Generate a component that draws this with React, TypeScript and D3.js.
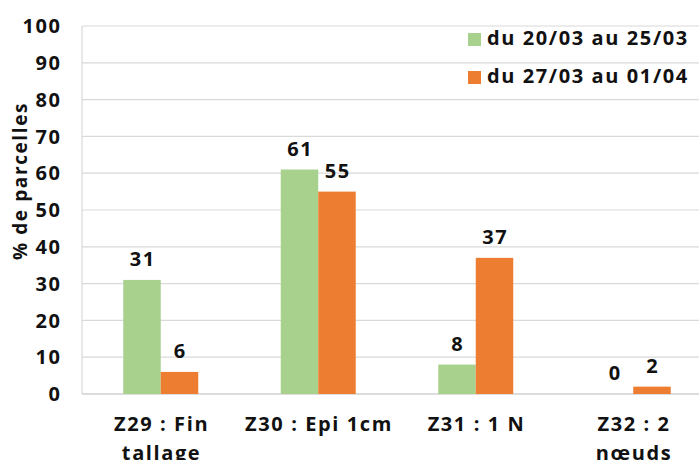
import React, { useRef, useEffect } from 'react';
import * as d3 from 'd3';

const categories = [['Z29 : Fin', 'tallage'], ['Z30 : Epi 1cm'], ['Z31 : 1 N'], ['Z32 : 2', 'nœuds']];
const seriesNames = ['du 20/03 au 25/03', 'du 27/03 au 01/04'];
const serie1 = [31, 61, 8, 0];
const serie2 = [6, 55, 37, 2];
const yTicks = [0, 10, 20, 30, 40, 50, 60, 70, 80, 90, 100];
const colors = ['#A9D18E', '#ED7D31'];

const FONT = "'Open Sans', sans-serif";
const LS = 1.6;

export default function App() {
  const ref = useRef<SVGSVGElement | null>(null);

  useEffect(() => {
    if (!ref.current) return;
    const svg = d3.select(ref.current);
    svg.selectAll('*').remove();

    const left = 82, right = 712, top = 26, bottom = 394;
    const keys = categories.map(c => c.join(' '));

    const x0 = d3.scaleBand<string>().domain(keys).range([left, right]).padding(0);
    const groupW = 75;
    const x1 = d3.scaleBand<number>().domain([0, 1]).range([0, groupW]);
    const y = d3.scaleLinear().domain([0, 100]).range([bottom, top]);

    const txt = (sel: any, size = 20) =>
      sel.attr('font-family', FONT).attr('font-weight', 700).attr('font-size', size)
        .attr('letter-spacing', LS).attr('fill', '#111');

    // gridlines
    svg.append('g')
      .selectAll('line')
      .data(yTicks.filter(t => t > 0))
      .join('line')
      .attr('x1', left).attr('x2', right)
      .attr('y1', d => y(d)).attr('y2', d => y(d))
      .attr('stroke', '#D9D9D9').attr('stroke-width', 1.2);

    // axis lines
    svg.append('line')
      .attr('x1', left).attr('x2', left).attr('y1', top).attr('y2', bottom)
      .attr('stroke', '#D9D9D9').attr('stroke-width', 1.2);
    svg.append('line')
      .attr('x1', left).attr('x2', right).attr('y1', bottom).attr('y2', bottom)
      .attr('stroke', '#D0D0D0').attr('stroke-width', 1.5);

    // y tick labels
    svg.append('g')
      .selectAll('text')
      .data(yTicks)
      .join('text')
      .attr('x', 60 + LS)
      .attr('y', d => y(d))
      .attr('dy', '0.36em')
      .attr('text-anchor', 'end')
      .call(txt)
      .text(d => d);

    // y title
    svg.append('text')
      .attr('transform', `translate(27, 181) rotate(-90)`)
      .attr('text-anchor', 'middle')
      .call(txt, 19)
      .text('% de parcelles');

    const series = [serie1, serie2];
    series.forEach((vals, si) => {
      const g = svg.append('g');
      const bx = (i: number) => (x0(keys[i]) as number) + (x0.bandwidth() - groupW) / 2 + (x1(si) as number);
      g.selectAll('rect')
        .data(vals)
        .join('rect')
        .attr('x', (d, i) => bx(i))
        .attr('width', x1.bandwidth())
        .attr('y', d => y(d))
        .attr('height', d => bottom - y(d))
        .attr('fill', colors[si]);
      g.selectAll('text')
        .data(vals)
        .join('text')
        .attr('x', (d, i) => bx(i) + x1.bandwidth() / 2 + LS / 2)
        .attr('y', d => y(d) - 14)
        .attr('text-anchor', 'middle')
        .call(txt)
        .text(d => d);
    });

    // x labels
    const xl = svg.append('g');
    categories.forEach((lines, i) => {
      const cx = (x0(keys[i]) as number) + x0.bandwidth() / 2 + LS / 2;
      const t = xl.append('text')
        .attr('text-anchor', 'middle')
        .call(txt);
      lines.forEach((ln, j) => {
        t.append('tspan').attr('x', cx).attr('y', 431 + j * 29).text(ln);
      });
    });

    // legend
    const lg = svg.append('g');
    seriesNames.forEach((name, i) => {
      const yy = 33 + i * 38;
      lg.append('rect').attr('x', 468).attr('y', yy).attr('width', 13).attr('height', 13).attr('fill', colors[i]);
      lg.append('text')
        .attr('x', 487).attr('y', yy + 12)
        .call(txt)
        .text(name);
    });
  }, []);

  return (
    <svg ref={ref} width={699} height={460}
      style={{ position: 'absolute', left: 0, top: 0, background: '#fff' }} />
  );
}
